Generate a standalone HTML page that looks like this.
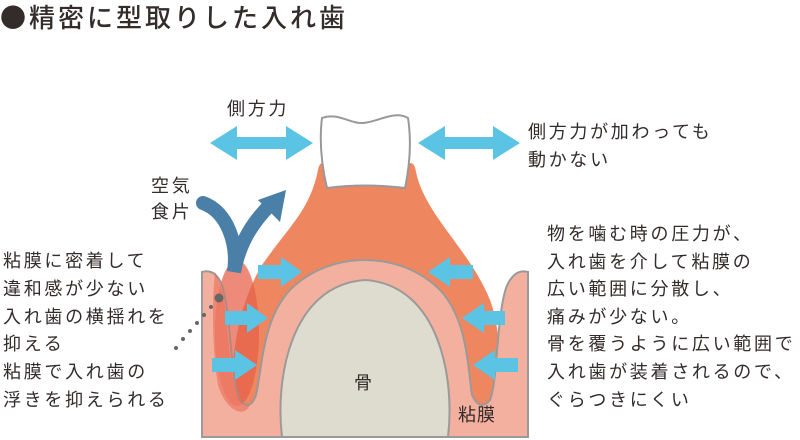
<!DOCTYPE html>
<html><head><meta charset="utf-8"><style>
body{margin:0;width:800px;height:440px;background:#fff;position:relative;overflow:hidden;font-family:"Liberation Sans","Noto Sans CJK JP",sans-serif;color:#332c2b}
.t{position:absolute;font-size:18px;letter-spacing:2.7px;line-height:27.6px;white-space:nowrap}
</style></head><body>
<svg width="800" height="440" style="position:absolute;left:0;top:0">
<path d="M318,170 Q320,158 330,166 L405,166 Q414,158 416,172 C425,215 470,250 490,300 C505,340 500,400 480,420 L240,420 C225,380 235,310 262,265 C290,225 310,210 318,170 Z" fill="#ee875f"/>
<ellipse cx="237" cy="333" rx="22" ry="73" fill="#e8604a" opacity="0.6"/>
<path d="M202,437 L202,272 Q215,268 222,285 C232,320 230,380 240,400 Q250,412 256,395 C262,370 262,320 290,290 C330,250 400,250 440,290 C468,320 468,370 472,395 Q480,412 490,400 C498,380 496,320 506,288 Q514,268 528,272 L528,437 Z" fill="#f4b09e" stroke="#9a9a9a" stroke-width="2"/>
<path d="M215,272 Q222,285 224,300 C230,340 230,385 240,400 Q246,408 250,404 C245,420 225,410 218,385 C212,350 212,300 215,272 Z" fill="#e8604a" opacity="0.5"/>
<ellipse cx="237" cy="333" rx="22" ry="73" fill="#e8604a" opacity="0.35"/>
<path d="M282,437 C275,380 290,285 365,280 C440,285 455,380 448,437 Z" fill="#dedccf" stroke="#9a9a9a" stroke-width="2"/>
<path d="M322,118 C338,112 350,124 363,123 C378,122 394,110 408,118 Q413,150 405,188 Q365,183 327,188 Q318,150 322,118 Z" fill="#fff" stroke="#999" stroke-width="2"/>
<g fill="#5bc3e3">
<path d="M210,143 L237,126 L237,137 L286,137 L286,126 L313,143 L286,160 L286,149 L237,149 L237,160 Z"/>
<path d="M418,143 L445,126 L445,137 L493,137 L493,126 L520,143 L493,160 L493,149 L445,149 L445,160 Z"/>
<path d="M258,265 L281,265 L281,257 L302,272 L281,287 L281,279 L258,279 Z"/>
<path d="M225,311 L247,311 L247,303 L268,318 L247,333 L247,325 L225,325 Z"/>
<path d="M212,358 L235,358 L235,350 L257,365 L235,380 L235,372 L212,372 Z"/>
<path d="M473,265 L450,265 L450,257 L428,272 L450,287 L450,279 L473,279 Z"/>
<path d="M505,311 L484,311 L484,303 L462,318 L484,333 L484,325 L505,325 Z"/>
<path d="M518,358 L495,358 L495,350 L473,365 L495,380 L495,372 L518,372 Z"/>
</g>
<path d="M203,203 C228,212 238,245 234,272 C240,240 255,220 270,205" fill="none" stroke="#4a7fa8" stroke-width="14" stroke-linecap="round"/>
<path d="M286,190 L258,200 L280,222 Z" fill="#4a7fa8"/>
<circle cx="219" cy="298" r="4.5" fill="#666"/>
<g fill="#666"><circle cx="211" cy="307" r="2"/><circle cx="204" cy="315" r="2"/><circle cx="197" cy="323" r="2"/><circle cx="190" cy="331" r="2"/><circle cx="183" cy="339" r="2"/><circle cx="176" cy="348" r="2"/></g>
</svg>
<div class="t" style="left:0;top:2px;font-size:26px;letter-spacing:3px;line-height:30px;font-family:'Noto Sans CJK JP',sans-serif;font-weight:500">●精密に型取りした入れ歯</div>
<div class="t" style="left:227px;top:96px">側方力</div>
<div class="t" style="left:151px;top:173px;line-height:26px">空気<br>食片</div>
<div class="t" style="left:3px;top:248px;line-height:27.8px">粘膜に密着して<br>違和感が少ない<br>入れ歯の横揺れを<br>抑える<br>粘膜で入れ歯の<br>浮きを抑えられる</div>
<div class="t" style="left:528px;top:118px;line-height:28px">側方力が加わっても<br>動かない</div>
<div class="t" style="left:547px;top:221px">物を噛む時の圧力が、<br>入れ歯を介して粘膜の<br>広い範囲に分散し、<br>痛みが少ない。<br>骨を覆うように広い範囲で<br>入れ歯が装着されるので、<br>ぐらつきにくい</div>
<div class="t" style="left:354px;top:370px">骨</div>
<div class="t" style="left:458px;top:402px;letter-spacing:1px">粘膜</div>
</body></html>
